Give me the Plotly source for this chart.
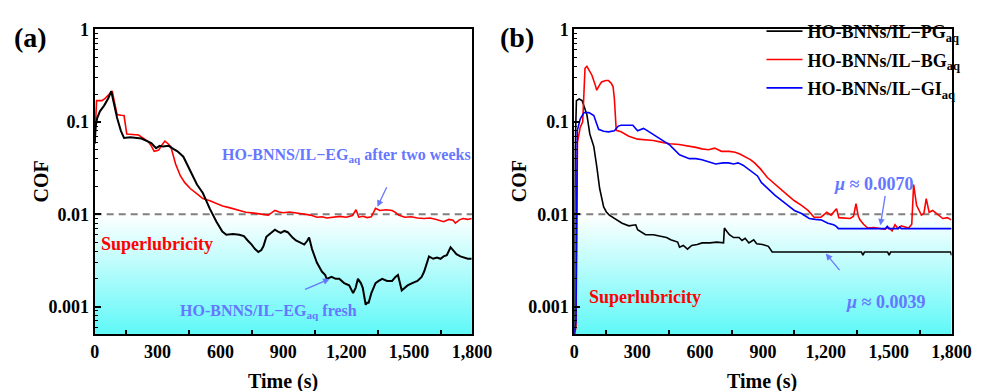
import plotly.graph_objects as go

# ---------------- data ----------------
# Panel (a): HO-BNNS/IL-EGaq fresh (black) and after two weeks (red)
a_fresh_t = [0, 5, 12, 25, 45, 65, 79, 95, 107, 125, 140, 170, 200, 223, 250, 270, 293, 310, 326, 353,
             375, 395, 423, 456, 488, 516, 549, 581, 609, 628, 660, 690, 712, 730, 749, 765, 781, 795, 805,
             819, 840, 860, 875, 888, 905, 921, 944, 960, 977, 1000, 1015, 1023, 1037, 1060, 1084, 1100,
             1107, 1130, 1150, 1167, 1190, 1214, 1233, 1245, 1256, 1270, 1279, 1293, 1300, 1307, 1320,
             1340, 1355, 1372, 1395, 1419, 1435, 1447, 1465, 1480, 1493, 1515, 1540, 1560, 1572, 1595,
             1615, 1633, 1650, 1665, 1680, 1698, 1712, 1726, 1745, 1758, 1780, 1798]
a_fresh_v = [0.058, 0.09, 0.11, 0.13, 0.15, 0.18, 0.215, 0.14, 0.11, 0.08, 0.067, 0.068, 0.067, 0.066,
             0.062, 0.059, 0.052, 0.055, 0.054, 0.055, 0.051, 0.048, 0.042, 0.029, 0.021, 0.017, 0.0115,
             0.0083, 0.0065, 0.006, 0.0061, 0.006, 0.0058, 0.0052, 0.0047, 0.0042, 0.0039, 0.0041, 0.0045,
             0.0057, 0.0062, 0.0068, 0.0065, 0.0063, 0.0066, 0.0064, 0.0056, 0.0052, 0.005, 0.0047, 0.0052,
             0.0056, 0.0042, 0.003, 0.0024, 0.0022, 0.002, 0.0021, 0.002, 0.002, 0.0018, 0.0017, 0.0014,
             0.0016, 0.002, 0.0018, 0.0016, 0.00105, 0.0011, 0.0011, 0.0014, 0.0018, 0.0019, 0.002, 0.0019,
             0.0019, 0.0021, 0.0022, 0.0015, 0.0016, 0.0017, 0.0018, 0.0019, 0.0021, 0.0024, 0.0035, 0.0033,
             0.0034, 0.0033, 0.0035, 0.0036, 0.0044, 0.004, 0.0037, 0.0035, 0.0034, 0.0033, 0.0033]

a_aged_t = [0, 5, 9, 20, 35, 50, 70, 84, 95, 107, 125, 140, 153, 180, 209, 235, 256, 270, 284, 300, 307,
            320, 335, 350, 363, 386, 409, 430, 456, 490, 516, 550, 581, 610, 642, 680, 721, 760, 790, 828,
            845, 860, 880, 900, 930, 967, 1000, 1030, 1060, 1085, 1107, 1140, 1170, 1200, 1230, 1247, 1260,
            1280, 1300, 1320, 1340, 1360, 1390, 1419, 1435, 1450, 1479, 1510, 1540, 1572, 1600, 1630, 1665,
            1690, 1710, 1721, 1740, 1758, 1780, 1798]
a_aged_v = [0.06, 0.12, 0.17, 0.17, 0.17, 0.18, 0.2, 0.215, 0.16, 0.12, 0.118, 0.117, 0.074, 0.073, 0.072,
            0.066, 0.061, 0.055, 0.048, 0.049, 0.05, 0.056, 0.062, 0.058, 0.054, 0.035, 0.026, 0.022, 0.019,
            0.0165, 0.0148, 0.014, 0.013, 0.0123, 0.0118, 0.0112, 0.0105, 0.0103, 0.0101, 0.0098, 0.0104,
            0.011, 0.0106, 0.0104, 0.0106, 0.0103, 0.0101, 0.0098, 0.0093, 0.0094, 0.0091, 0.0093, 0.0095,
            0.0093, 0.0097, 0.0112, 0.0093, 0.0095, 0.0092, 0.0094, 0.0116, 0.011, 0.0112, 0.011, 0.0105,
            0.0098, 0.0093, 0.0094, 0.0091, 0.009, 0.0091, 0.0088, 0.0083, 0.0088, 0.0086, 0.008, 0.0087,
            0.009, 0.0088, 0.009]

# Panel (b): PG (black), BG (red), GI (blue)
b_pg_t = [0, 4, 10, 23, 37, 50, 60, 74, 93, 107, 121, 140, 153, 167, 200, 228, 260, 293, 302, 340, 377,
          414, 440, 460, 493, 502, 520, 540, 560, 586, 610, 647, 680, 712, 716, 728, 740, 760, 786, 800, 815,
          833, 856, 870, 898, 926, 944, 1370, 1377, 1384, 1495, 1502, 1509, 1795, 1800]
b_pg_v = [0.0005, 0.05, 0.17, 0.177, 0.17, 0.14, 0.12, 0.074, 0.054, 0.033, 0.019, 0.012, 0.0106, 0.0098,
          0.0087, 0.008, 0.0075, 0.0077, 0.0068, 0.006, 0.006, 0.0057, 0.0056, 0.0053, 0.005, 0.0044,
          0.0046, 0.0042, 0.0046, 0.0047, 0.0049, 0.0049, 0.005, 0.0049, 0.0071, 0.0065, 0.006, 0.0056,
          0.0056, 0.0052, 0.0055, 0.0049, 0.0053, 0.0048, 0.0047, 0.0045, 0.0039, 0.0039, 0.0036, 0.0039,
          0.0039, 0.0036, 0.0039, 0.0039, 0.0036]

b_bg_t = [0, 8, 15, 28, 40, 51, 60, 70, 84, 100, 107, 120, 130, 150, 163, 177, 185, 191, 197, 200, 223,
          260, 302, 340, 377, 420, 456, 500, 549, 580, 609, 640, 670, 702, 740, 767, 790, 814, 840, 860,
          888, 921, 958, 990, 1019, 1050, 1084, 1115, 1144, 1177, 1205, 1225, 1251, 1262, 1290, 1316, 1332,
          1344, 1355, 1363, 1380, 1400, 1430, 1456, 1480, 1500, 1516, 1530, 1545, 1560, 1580, 1595, 1610,
          1619, 1633, 1656, 1668, 1679, 1693, 1710, 1726, 1745, 1758, 1780, 1798]
b_bg_v = [0.0005, 0.0006, 0.06, 0.087, 0.1, 0.38, 0.4, 0.36, 0.32, 0.25, 0.22, 0.25, 0.27, 0.28, 0.28,
          0.26, 0.24, 0.18, 0.11, 0.081, 0.078, 0.07, 0.065, 0.064, 0.063, 0.06, 0.058, 0.057, 0.055, 0.053,
          0.051, 0.05, 0.052, 0.048, 0.048, 0.047, 0.045, 0.042, 0.039, 0.036, 0.031, 0.025, 0.021, 0.018,
          0.016, 0.014, 0.0125, 0.011, 0.0093, 0.0093, 0.0105, 0.0098, 0.0115, 0.0092, 0.0091, 0.009,
          0.0095, 0.013, 0.0095, 0.0087, 0.0078, 0.0071, 0.0072, 0.0071, 0.0069, 0.0072, 0.0066, 0.0077,
          0.007, 0.0075, 0.0073, 0.0071, 0.0078, 0.021, 0.0125, 0.0098, 0.0102, 0.0148, 0.0105, 0.011,
          0.0103, 0.0095, 0.009, 0.0092, 0.0087]

b_gi_t = [0, 8, 14, 28, 46, 70, 93, 116, 140, 163, 191, 210, 223, 250, 279, 302, 330, 350, 372, 409, 456,
          502, 549, 580, 609, 640, 674, 710, 735, 760, 781, 805, 828, 850, 874, 893, 912, 958, 1019, 1050,
          1084, 1121, 1150, 1177, 1210, 1237, 1250, 1260, 1485, 1493, 1500, 1545, 1552, 1560, 1800]
b_gi_v = [0.0005, 0.0007, 0.08, 0.107, 0.126, 0.126, 0.117, 0.083, 0.079, 0.078, 0.08, 0.09, 0.092, 0.092,
          0.092, 0.08, 0.085, 0.08, 0.074, 0.065, 0.056, 0.044, 0.04, 0.04, 0.039, 0.037, 0.035, 0.036,
          0.036, 0.035, 0.036, 0.034, 0.031, 0.029, 0.026, 0.022, 0.02, 0.016, 0.0125, 0.011, 0.0102, 0.009,
          0.0088, 0.0087, 0.008, 0.0077, 0.0074, 0.007, 0.007, 0.0074, 0.007, 0.007, 0.0073, 0.007, 0.007]

x_ticks = [0, 300, 600, 900, 1200, 1500, 1800]
x_minor = [150, 450, 750, 1050, 1350, 1650]
y_ticks = [0.001, 0.01, 0.1, 1]
y_ticktext = ["0.001", "0.01", "0.1", "1"]
y_min, y_max = 0.0005, 1.0
threshold = 0.01
x_max = 1800

# ---------------- figure ----------------
W, H = 994, 391
FONT = "Liberation Serif"
ANN_BLUE = "#6677ff"

fig = go.Figure()

def px2paper(x, y):
    return x / W, 1 - y / H

dom_a = [92 / W, 479 / W]
dom_b = [584 / W, 971 / W]
ydom = [1 - 333 / H, 1 - 20 / H]

for xa, ya in [("x", "y"), ("x2", "y2")]:
    # gradient background (superlubricity region)
    fig.add_trace(go.Scatter(
        x=[0, x_max, x_max, 0, 0], y=[y_min, y_min, threshold, threshold, y_min],
        mode="lines", line=dict(width=0), fill="toself",
        fillgradient=dict(type="vertical", colorscale=[[0, "#5ff8f8"], [1, "#ffffff"]]),
        hoverinfo="skip", showlegend=False, xaxis=xa, yaxis=ya))
    fig.add_trace(go.Scatter(
        x=[0, x_max], y=[threshold, threshold], mode="lines",
        line=dict(color="#808080", width=2, dash="7px,5px"),
        showlegend=False, xaxis=xa, yaxis=ya))

fig.add_trace(go.Scatter(x=a_aged_t, y=a_aged_v, mode="lines", line=dict(color="red", width=1.6),
                         showlegend=False, xaxis="x", yaxis="y"))
fig.add_trace(go.Scatter(x=a_fresh_t, y=a_fresh_v, mode="lines", line=dict(color="black", width=2),
                         showlegend=False, xaxis="x", yaxis="y"))

fig.add_trace(go.Scatter(x=b_pg_t, y=b_pg_v, mode="lines", line=dict(color="black", width=1.6),
                         name="<b>HO-BNNs/IL−PG<sub>aq</sub></b>", legendgroup="g1",
                         xaxis="x2", yaxis="y2"))
fig.add_trace(go.Scatter(x=b_bg_t, y=b_bg_v, mode="lines", line=dict(color="red", width=1.6),
                         name="<b>HO-BNNs/IL−BG<sub>aq</sub></b>", legendgroup="g2",
                         xaxis="x2", yaxis="y2"))
fig.add_trace(go.Scatter(x=b_gi_t, y=b_gi_v, mode="lines", line=dict(color="blue", width=1.6),
                         name="<b>HO-BNNs/IL−GI<sub>aq</sub></b>", legendgroup="g3",
                         xaxis="x2", yaxis="y2"))

tickfont = dict(family=FONT, size=18, color="black", weight="bold")
xcommon = dict(range=[0, x_max], tickvals=x_ticks, ticktext=[f"{v:,}" for v in x_ticks],
               ticks="", showline=True, linewidth=2, linecolor="black", mirror=True,
               showgrid=False, zeroline=False, tickfont=tickfont,
               minor=dict(tickvals=x_minor, ticks="inside", ticklen=4, tickwidth=1.5, tickcolor="black"))
y_minor_vals = [m * 10 ** e for e in [-4, -3, -2, -1] for m in range(2, 10)]
y_minor_vals = [v for v in y_minor_vals if y_min <= v <= y_max]
ycommon = dict(type="log", range=[-3.301, 0], tickvals=y_ticks, ticktext=y_ticktext,
               ticks="inside", ticklen=6, tickwidth=1.5, tickcolor="black",
               showline=True, linewidth=2, linecolor="black", mirror=True,
               showgrid=False, zeroline=False, tickfont=tickfont,
               minor=dict(tickvals=y_minor_vals, ticks="inside", ticklen=3, tickwidth=1, tickcolor="black"))

fig.update_layout(
    width=W, height=H, margin=dict(l=0, r=0, t=0, b=0),
    plot_bgcolor="white", paper_bgcolor="white",
    xaxis=dict(domain=dom_a, anchor="y", **xcommon),
    yaxis=dict(domain=ydom, anchor="x", **ycommon),
    xaxis2=dict(domain=dom_b, anchor="y2", **xcommon),
    yaxis2=dict(domain=ydom, anchor="x2", **ycommon),
    legend=dict(x=776 / W, y=1 - 3 / H, xanchor="left", yanchor="top",
                bgcolor="rgba(0,0,0,0)", tracegroupgap=2, itemwidth=36,
                font=dict(family=FONT, size=18, color="black")),
    showlegend=True,
)

anns = []

def text(x, y, s, size=17, color="black", angle=0, xanchor="center"):
    px, py = px2paper(x, y)
    anns.append(dict(x=px, y=py, xref="paper", yref="paper", text=s, showarrow=False,
                     font=dict(family=FONT, size=size, color=color, weight="bold"),
                     textangle=angle, xanchor=xanchor, yanchor="middle"))

def arrow(x0, y0, x1, y1):
    px, py = px2paper(x1, y1)
    anns.append(dict(x=px, y=py, xref="paper", yref="paper", text="", showarrow=True,
                     ax=x0 - x1, ay=y0 - y1, axref="pixel", ayref="pixel",
                     arrowhead=2, arrowsize=1, arrowwidth=1.3, arrowcolor=ANN_BLUE))

text(26, 28, "(a)", size=28)
text(525, 28, "(b)", size=28)
text(37, 176, "COF", size=20, angle=-90)
text(528, 176, "COF", size=20, angle=-90)
text(285, 381, "Time (s)", size=20)
text(777, 381, "Time (s)", size=20)
text(156, 240, "Superlubricity", size=18, color="red")
text(597, 295, "Superlubricity", size=18, color="red", xanchor="left")
text(350, 149, "HO-BNNS/IL−EG<sub>aq</sub> after two weeks", size=16, color=ANN_BLUE)
text(270, 309, "HO-BNNS/IL−EG<sub>aq</sub> fresh", size=16, color=ANN_BLUE)
text(848, 179, "<i>μ</i> ≈ 0.0070", size=18, color=ANN_BLUE, xanchor="left")
text(861, 300, "<i>μ</i> ≈ 0.0039", size=18, color=ANN_BLUE, xanchor="left")
arrow(392, 181, 382, 202)
arrow(307, 287, 333, 276)
arrow(903, 190, 898, 221)
arrow(857, 268, 842, 250)

fig.update_layout(annotations=anns)
fig.write_html("out.html")
